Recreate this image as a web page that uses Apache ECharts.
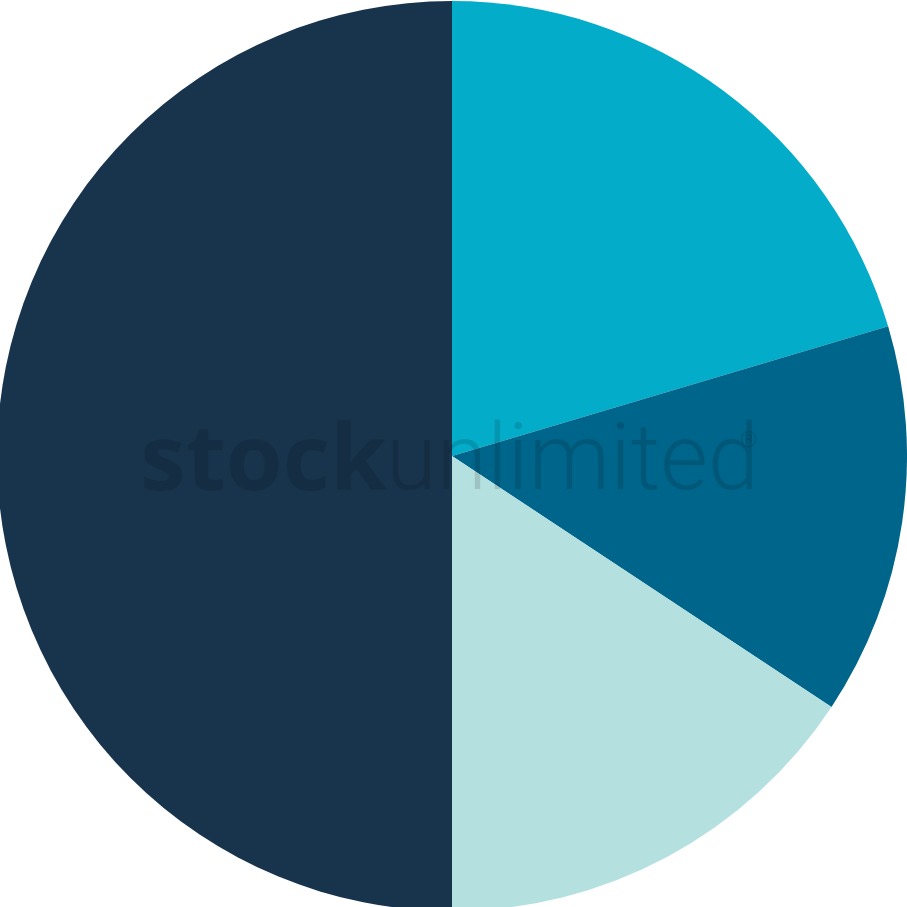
<!DOCTYPE html>
<html>
<head>
<meta charset="utf-8">
<script src="https://cdn.jsdelivr.net/npm/echarts@6/dist/echarts.min.js"></script>
<style>html,body{margin:0;padding:0;background:#fff;}#c{width:907px;height:907px;}</style>
</head>
<body>
<div id="c"></div>
<script>
const categories = ['A', 'B', 'C', 'D'];
const values = [20.4, 13.9, 15.7, 50];
const colors = ['#03acc9', '#00658a', '#b5e0e0', '#18344d'];

const chart = echarts.init(document.getElementById('c'));
chart.setOption({
  animation: false,
  backgroundColor: '#ffffff',
  series: [{
    type: 'pie',
    center: [452, 456],
    radius: [0, 455],
    startAngle: 90,
    clockwise: true,
    label: { show: false },
    labelLine: { show: false },
    emphasis: { disabled: true },
    itemStyle: { borderWidth: 0 },
    data: categories.map((c, i) => ({ name: c, value: values[i], itemStyle: { color: colors[i] } }))
  }],
  graphic: [
    { type: 'text', z: 100, left: 140, top: 418, style: { text: 'stock', font: 'bold 92px "Open Sans", sans-serif', fill: 'rgba(0,0,0,0.13)' } },
    { type: 'text', z: 100, left: 386, top: 420, style: { text: 'unlimited', font: '300 92px Roboto, sans-serif', fill: 'rgba(0,0,0,0.13)' } },
    { type: 'text', z: 100, left: 740, top: 430, style: { text: '®', font: '22px Roboto, sans-serif', fill: 'rgba(0,0,0,0.13)' } }
  ]
});
</script>
</body>
</html>
